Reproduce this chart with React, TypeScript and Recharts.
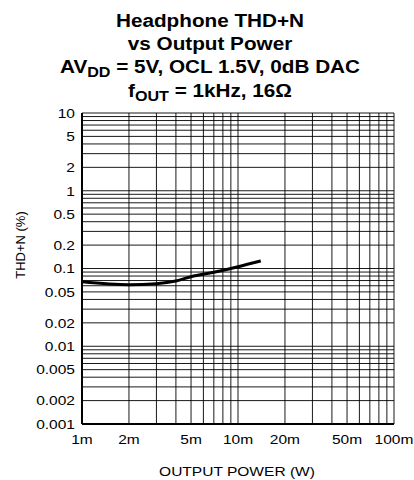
import { LineChart, Line, XAxis, YAxis, CartesianGrid } from 'recharts'

// output power (W) vs THD+N (%)
const POWER = [0.001, 0.002, 0.003, 0.004, 0.005, 0.007, 0.01, 0.014]
const THD = [0.0676, 0.062, 0.0638, 0.069, 0.0785, 0.0894, 0.1054, 0.125]

const X_GRID = [
  0.001, 0.002, 0.003, 0.004, 0.005, 0.006, 0.007, 0.008, 0.009,
  0.01, 0.02, 0.03, 0.04, 0.05, 0.06, 0.07, 0.08, 0.09, 0.1,
]
const Y_GRID = [
  0.001, 0.002, 0.003, 0.004, 0.005, 0.006, 0.007, 0.008, 0.009,
  0.01, 0.02, 0.03, 0.04, 0.05, 0.06, 0.07, 0.08, 0.09,
  0.1, 0.2, 0.3, 0.4, 0.5, 0.6, 0.7, 0.8, 0.9,
  1, 2, 3, 4, 5, 6, 7, 8, 9, 10,
]
const X_LABEL_VALUES = [0.001, 0.002, 0.005, 0.01, 0.02, 0.05, 0.1]
const X_LABELS = ['1m', '2m', '5m', '10m', '20m', '50m', '100m']
const Y_LABEL_VALUES = [0.001, 0.002, 0.005, 0.01, 0.02, 0.05, 0.1, 0.2, 0.5, 1, 2, 5, 10]
const Y_LABELS = ['0.001', '0.002', '0.005', '0.01', '0.02', '0.05', '0.1', '0.2', '0.5', '1', '2', '5', '10']

const FONT = '"Liberation Sans", Arial, sans-serif'
const STRETCH = 1.15

const data = POWER.map((p, i) => ({ p, thd: THD[i] }))

function findLabel(v: number, values: number[], labels: string[]) {
  const i = values.findIndex((x) => Math.abs(x - v) / x < 1e-6)
  return i >= 0 ? labels[i] : null
}

function XTick(props: any) {
  const { x, y, payload } = props
  const label = findLabel(payload.value, X_LABEL_VALUES, X_LABELS)
  if (!label) return <g />
  return (
    <text
      transform={`translate(${x},${y}) scale(${STRETCH},1)`}
      textAnchor="middle"
      dy={12}
      fontFamily={FONT}
      fontSize={13.5}
      fill="#000"
    >
      {label}
    </text>
  )
}

function YTick(props: any) {
  const { x, y, payload } = props
  const label = findLabel(payload.value, Y_LABEL_VALUES, Y_LABELS)
  if (!label) return <g />
  return (
    <text
      transform={`translate(${x},${y}) scale(${STRETCH},1)`}
      textAnchor="end"
      dy={4.8}
      fontFamily={FONT}
      fontSize={13.5}
      fill="#000"
    >
      {label}
    </text>
  )
}

const titleLine = (top: number, content: React.ReactNode) => (
  <div
    style={{
      position: 'absolute',
      left: 0,
      top,
      width: 420,
      height: 23,
      lineHeight: '23px',
      textAlign: 'center',
      fontFamily: FONT,
      fontWeight: 'bold',
      fontSize: 18,
      transform: `scaleX(${STRETCH})`,
      transformOrigin: '210px 0',
      whiteSpace: 'nowrap',
    }}
  >
    {content}
  </div>
)

const sub = (s: string) => (
  <span style={{ fontSize: 14, position: 'relative', top: 4 }}>{s}</span>
)

export default function App() {
  return (
    <div style={{ position: 'absolute', left: 0, top: 0, width: 414, height: 480, background: '#fff' }}>
      {titleLine(10, 'Headphone THD+N')}
      {titleLine(33, 'vs Output Power')}
      {titleLine(56, <>AV{sub('DD')} = 5V, OCL 1.5V, 0dB DAC</>)}
      {titleLine(80, <>f{sub('OUT')} = 1kHz, 16Ω</>)}
      <div style={{ position: 'absolute', left: 0, top: 0 }}>
        <LineChart width={414} height={480} data={data} margin={{ top: 113, right: 20, bottom: 26, left: 12 }}>
          <CartesianGrid stroke="#000" strokeWidth={1} strokeOpacity={0.9} />
          <XAxis
            dataKey="p"
            type="number"
            scale="log"
            domain={[0.001, 0.1]}
            allowDataOverflow
            ticks={X_GRID}
            interval={0}
            tick={<XTick />}
            tickLine={false}
            tickSize={0}
            tickMargin={8}
            height={30}
            axisLine={{ stroke: '#000', strokeWidth: 2 }}
          />
          <YAxis
            type="number"
            scale="log"
            domain={[0.001, 10]}
            allowDataOverflow
            ticks={Y_GRID}
            interval={0}
            tick={<YTick />}
            tickLine={false}
            tickSize={0}
            tickMargin={7}
            width={70}
            axisLine={{ stroke: '#000', strokeWidth: 2 }}
          />
          <Line
            type="monotone"
            dataKey="thd"
            stroke="#000"
            strokeWidth={3}
            dot={false}
            isAnimationActive={false}
          />
        </LineChart>
      </div>
      <div
        style={{
          position: 'absolute',
          left: 237 - 100,
          top: 463,
          width: 200,
          textAlign: 'center',
          fontFamily: FONT,
          fontSize: 13.5,
          lineHeight: '18px',
          transform: `scaleX(${STRETCH})`,
        }}
      >
        OUTPUT POWER (W)
      </div>
      <div
        style={{
          position: 'absolute',
          left: 21 - 50,
          top: 245 - 9,
          width: 100,
          textAlign: 'center',
          fontFamily: FONT,
          fontSize: 13,
          lineHeight: '18px',
          transform: 'rotate(-90deg)',
          whiteSpace: 'nowrap',
        }}
      >
        THD+N (%)
      </div>
    </div>
  )
}
